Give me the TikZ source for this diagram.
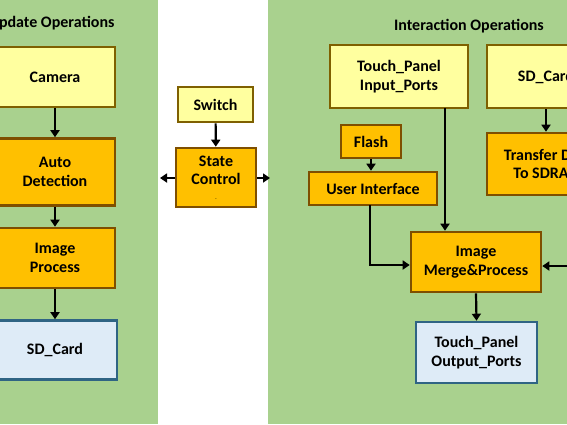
\documentclass[tikz,border=0pt]{standalone}
\usepackage{fontspec}
\setmainfont{Carlito}
\usetikzlibrary{arrows.meta}
\definecolor{panelgreen}{HTML}{A9D18E}
\definecolor{paleyellow}{HTML}{FFFF9F}
\definecolor{olivebrd}{HTML}{7F6000}
\definecolor{boxorange}{HTML}{FFC000}
\definecolor{orangebrd}{HTML}{7F4F00}
\definecolor{paleblue}{HTML}{DEEBF7}
\definecolor{bluebrd}{HTML}{2F6484}
\begin{document}
\begin{tikzpicture}[x=1pt,y=-1pt,
  font=\fontsize{16}{18.5}\selectfont\bfseries,
  blk/.style={draw, line width=2.6pt, align=center, inner sep=0pt},
  yel/.style={blk, fill=paleyellow, draw=olivebrd},
  org/.style={blk, fill=boxorange, draw=orangebrd},
  blu/.style={blk, fill=paleblue, draw=bluebrd},
  flow/.style={line width=2.2pt, -{Triangle[length=7pt,width=9pt]}},
  ttl/.style={font=\fontsize{16}{19}\selectfont\bfseries}]
\useasboundingbox (0,0) rectangle (567,424);
\clip (0,0) rectangle (567,424);
\fill[panelgreen] (-10,0) rectangle (158,424);
\fill[panelgreen] (268,0) rectangle (580,424);
\node[ttl, anchor=east] (updttl) at (118,23) {Update Operations};
\node[ttl] (intttl) at (469,26) {Interaction Operations};
% left column
\node[yel, minimum width=120, minimum height=60] (camera) at (55,77) {Camera};
\node[org, minimum width=120, minimum height=67] (autodet) at (55,172) {Auto\\Detection};
\node[org, minimum width=120, minimum height=60] (imgproc) at (55,258) {Image\\Process};
\node[blu, minimum width=124, minimum height=59] (sdleft) at (55,350) {SD\_Card};
% middle
\node[yel, minimum width=75, minimum height=35] (switch) at (215.5,104.5) {Switch};
\node[org, minimum width=80, minimum height=59] (state) at (216,177.5) {State\\Control\\[-4pt]{\tiny .}};
% right
\node[yel, minimum width=138, minimum height=63] (touchin) at (399,76.5) {Touch\_Panel\\Input\_Ports};
\node[yel, minimum width=118, minimum height=63] (sdright) at (546,76.5) {SD\_Card};
\node[org, minimum width=122, minimum height=62] (transfer) at (548,164) {Transfer Data\\To SDRAM};
\node[org, minimum width=60, minimum height=33] (flash) at (371,141.5) {Flash};
\node[org, minimum width=128, minimum height=33] (ui) at (373,188.5) {User Interface};
\node[org, minimum width=130, minimum height=60] (merge) at (476,262) {Image\\Merge\&Process};
\node[blu, minimum width=121, minimum height=61] (touchout) at (476.5,352.5) {Touch\_Panel\\Output\_Ports};
\coordinate (lefttip) at (160,178);
\coordinate (righttip) at (270,178);
\coordinate (tap) at (445,108);
\coordinate (uitap) at (370,205);
\coordinate (offright) at (585,266);
% connectors
\draw[flow] (camera) -- (autodet);
\draw[flow] (autodet) -- (imgproc);
\draw[flow] (imgproc) -- (sdleft);
\draw[flow] (switch) -- (state);
\draw[flow] (state.west |- lefttip) -- (lefttip);
\draw[flow] (state.east |- righttip) -- (righttip);
\draw[flow] (sdright.south -| 546,0) -- (transfer.north -| 546,0);
\draw[flow] (flash.south -| 371,0) -- (ui.north -| 371,0);
\draw[flow] (tap) -- (tap |- merge.north);
\draw[flow] (uitap) |- (merge.west |- 0,265);
\draw[flow] (offright) -- (merge.east |- offright);
\draw[flow] (merge.south) -- (touchout.north);
\end{tikzpicture}
\end{document}
